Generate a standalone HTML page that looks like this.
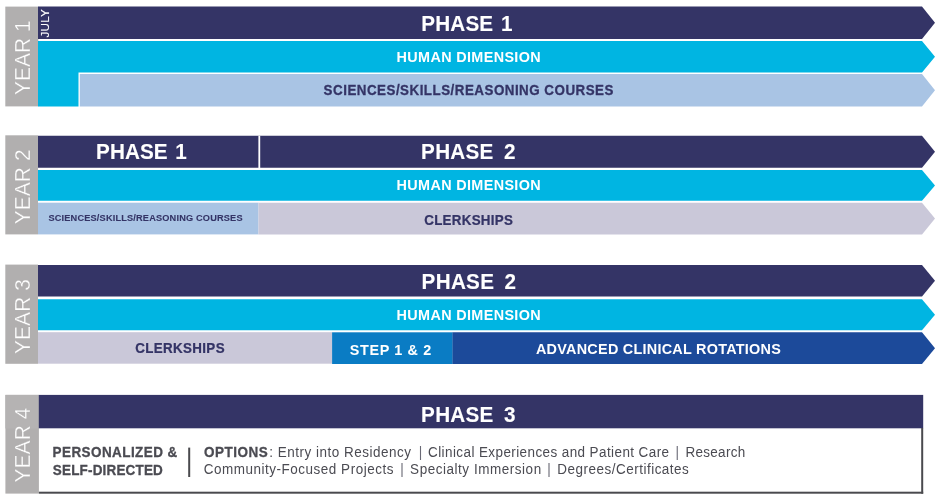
<!DOCTYPE html>
<html><head><meta charset="utf-8">
<style>
html,body{margin:0;padding:0;background:#fff;}
body{width:936px;height:500px;overflow:hidden;}
svg{display:block;font-family:"Liberation Sans",sans-serif;}
.yr{fill:#fff;font-size:22px;letter-spacing:0.1px;stroke:#b1afaf;stroke-width:0.3px;}
</style></head><body>
<svg width="936" height="500" viewBox="0 0 936 500">
<rect width="936" height="500" fill="#fff"/>

<!-- YEAR 1 -->
<rect x="5.3" y="6.6" width="33" height="99.8" fill="#b1afaf"/>
<text class="yr" transform="translate(29.6,57.6) rotate(-90) scale(0.95,1)" text-anchor="middle">YEAR 1</text>
<polygon points="38,6.6 922,6.6 935,22.7 922,38.9 38,38.9" fill="#343466"/>
<polygon points="38,41 922,41 935,56.7 922,72.5 78.5,72.5 78.5,106.4 38,106.4" fill="#00b5e2"/>
<polygon points="79.8,74.1 922,74.1 935,90.2 922,106.4 79.8,106.4" fill="#a9c4e4"/>
<text transform="translate(48.7,37.6) rotate(-90) scale(1.08,1)" fill="#fff" stroke="#fff" stroke-width="0.1" font-size="10.8" style="letter-spacing:0.25px">JULY</text>
<!-- YEAR 2 -->
<rect x="5.3" y="135.3" width="32.7" height="99.1" fill="#b1afaf"/>
<text class="yr" transform="translate(29.6,186.8) rotate(-90) scale(0.95,1)" text-anchor="middle">YEAR 2</text>
<polygon points="38,135.8 922,135.8 935,151.8 922,167.8 38,167.8" fill="#343466"/>
<rect x="258.4" y="135.8" width="1.8" height="32.5" fill="#fff"/>
<polygon points="38,170 922,170 935,185.4 922,200.7 38,200.7" fill="#00b5e2"/>
<rect x="38" y="202.7" width="220.5" height="31.7" fill="#a9c4e4"/>
<polygon points="258.5,202.7 922,202.7 935,218.5 922,234.4 258.5,234.4" fill="#cac8d9"/>
<!-- YEAR 3 -->
<rect x="5.3" y="264.6" width="32.7" height="99.2" fill="#b1afaf"/>
<text class="yr" transform="translate(29.6,316.5) rotate(-90) scale(0.95,1)" text-anchor="middle">YEAR 3</text>
<polygon points="38,264.9 922,264.9 935,280.8 922,296.6 38,296.6" fill="#343466"/>
<polygon points="38,299.2 922,299.2 935,314.7 922,330.2 38,330.2" fill="#00b5e2"/>
<rect x="38" y="332.2" width="294.2" height="31.5" fill="#cac8d9"/>
<rect x="332.1" y="332.3" width="120.6" height="31.7" fill="#0a7cc4"/>
<polygon points="452.5,332.3 922,332.3 935,348.2 922,364 452.5,364" fill="#1c4a9a"/>
<!-- YEAR 4 -->
<rect x="5.4" y="394.9" width="33.5" height="98.7" fill="#b1afaf"/>
<rect x="5.4" y="394.9" width="33.5" height="33.6" fill="#b5b3b3"/>
<rect x="38.8" y="394.9" width="884.4" height="33.4" fill="#343466"/>
<rect x="921.2" y="428" width="2" height="65.7" fill="#4a4a4e"/>
<rect x="38.9" y="491.7" width="884.3" height="2" fill="#4a4a4e"/>
<text class="yr" transform="translate(29.6,445) rotate(-90) scale(0.95,1)" text-anchor="middle">YEAR 4</text>
<rect x="188.2" y="447.6" width="2" height="29.4" fill="#4a4a4e"/>

<text transform="translate(421.37,30.9) scale(0.94,1)" fill="#fff" font-weight="bold" font-size="22" stroke="#fff" stroke-width="0.1" style="letter-spacing:0.142px;word-spacing:2.0px">PHASE 1</text>
<text transform="translate(396.58,62.3) scale(0.98,1)" fill="#fff" font-weight="bold" font-size="14.7" style="letter-spacing:0.357px">HUMAN DIMENSION</text>
<text transform="translate(323.62,95.4) scale(0.91,1)" fill="#343466" font-weight="bold" font-size="14.7" stroke="#343466" stroke-width="0.3" style="letter-spacing:0.538px">SCIENCES/SKILLS/REASONING COURSES</text>
<text transform="translate(96.10,159.1) scale(0.94,1)" fill="#fff" font-weight="bold" font-size="22" stroke="#fff" stroke-width="0.1" style="letter-spacing:0.064px;word-spacing:2.0px">PHASE 1</text>
<text transform="translate(421.09,159.1) scale(0.94,1)" fill="#fff" font-weight="bold" font-size="22" stroke="#fff" stroke-width="0.1" style="letter-spacing:0.281px;word-spacing:4.5px">PHASE 2</text>
<text transform="translate(396.58,190.2) scale(0.98,1)" fill="#fff" font-weight="bold" font-size="14.7" style="letter-spacing:0.357px">HUMAN DIMENSION</text>
<text transform="translate(48.46,221.3) scale(0.98,1)" fill="#343466" font-weight="bold" font-size="9.4" stroke="#343466" stroke-width="0.1" style="letter-spacing:0.172px">SCIENCES/SKILLS/REASONING COURSES</text>
<text transform="translate(424.24,225.3) scale(0.91,1)" fill="#343466" font-weight="bold" font-size="14.7" stroke="#343466" stroke-width="0.25" style="letter-spacing:0.295px">CLERKSHIPS</text>
<text transform="translate(421.59,289.3) scale(0.94,1)" fill="#fff" font-weight="bold" font-size="22" stroke="#fff" stroke-width="0.1" style="letter-spacing:0.313px;word-spacing:4.5px">PHASE 2</text>
<text transform="translate(396.58,320.1) scale(0.98,1)" fill="#fff" font-weight="bold" font-size="14.7" style="letter-spacing:0.357px">HUMAN DIMENSION</text>
<text transform="translate(135.24,353.1) scale(0.91,1)" fill="#343466" font-weight="bold" font-size="14.7" stroke="#343466" stroke-width="0.25" style="letter-spacing:0.384px">CLERKSHIPS</text>
<text transform="translate(349.74,354.7) scale(0.98,1)" fill="#fff" font-weight="bold" font-size="14.7" style="letter-spacing:0.658px">STEP 1 &amp; 2</text>
<text transform="translate(535.94,353.5) scale(0.98,1)" fill="#fff" font-weight="bold" font-size="14.7" style="letter-spacing:0.263px">ADVANCED CLINICAL ROTATIONS</text>
<text transform="translate(421.09,422.1) scale(0.94,1)" fill="#fff" font-weight="bold" font-size="22" stroke="#fff" stroke-width="0.1" style="letter-spacing:0.286px;word-spacing:4.5px">PHASE 3</text>
<text transform="translate(52.56,456.9) scale(0.93,1)" fill="#4b4b52" font-weight="bold" font-size="14.5" stroke="#4b4b52" stroke-width="0.3" style="letter-spacing:0.457px">PERSONALIZED &amp;</text>
<text transform="translate(52.79,474.5) scale(0.93,1)" fill="#4b4b52" font-weight="bold" font-size="14.5" stroke="#4b4b52" stroke-width="0.3" style="letter-spacing:0.195px">SELF-DIRECTED</text>
<text transform="translate(204.09,456.9) scale(0.93,1)" fill="#4b4b52" font-weight="bold" font-size="14.5" stroke="#4b4b52" stroke-width="0.3" style="letter-spacing:0.554px">OPTIONS</text>
<text transform="translate(269.16,456.9) scale(0.93,1)" fill="#4b4b52" font-weight="normal" font-size="14.5" style="letter-spacing:0.549px">: Entry into Residency</text>
<text transform="translate(418.68,456.9) scale(0.93,1)" fill="#6a6a76" font-weight="normal" font-size="14.5" style="letter-spacing:0.300px">|</text>
<text transform="translate(428.07,456.9) scale(0.93,1)" fill="#4b4b52" font-weight="normal" font-size="14.5" style="letter-spacing:0.437px">Clinical Experiences and Patient Care</text>
<text transform="translate(675.58,456.9) scale(0.93,1)" fill="#6a6a76" font-weight="normal" font-size="14.5" style="letter-spacing:0.300px">|</text>
<text transform="translate(685.60,456.9) scale(0.93,1)" fill="#4b4b52" font-weight="normal" font-size="14.5" style="letter-spacing:0.281px">Research</text>
<text transform="translate(203.73,474.1) scale(0.93,1)" fill="#4b4b52" font-weight="normal" font-size="14.5" style="letter-spacing:0.553px">Community-Focused Projects</text>
<text transform="translate(400.21,474.1) scale(0.93,1)" fill="#6a6a76" font-weight="normal" font-size="14.5" style="letter-spacing:0.300px">|</text>
<text transform="translate(410.12,474.1) scale(0.93,1)" fill="#4b4b52" font-weight="normal" font-size="14.5" style="letter-spacing:0.576px">Specialty Immersion</text>
<text transform="translate(547.18,474.1) scale(0.93,1)" fill="#6a6a76" font-weight="normal" font-size="14.5" style="letter-spacing:0.300px">|</text>
<text transform="translate(557.36,474.1) scale(0.93,1)" fill="#4b4b52" font-weight="normal" font-size="14.5" style="letter-spacing:0.527px">Degrees/Certificates</text>
</svg>
</body></html>
